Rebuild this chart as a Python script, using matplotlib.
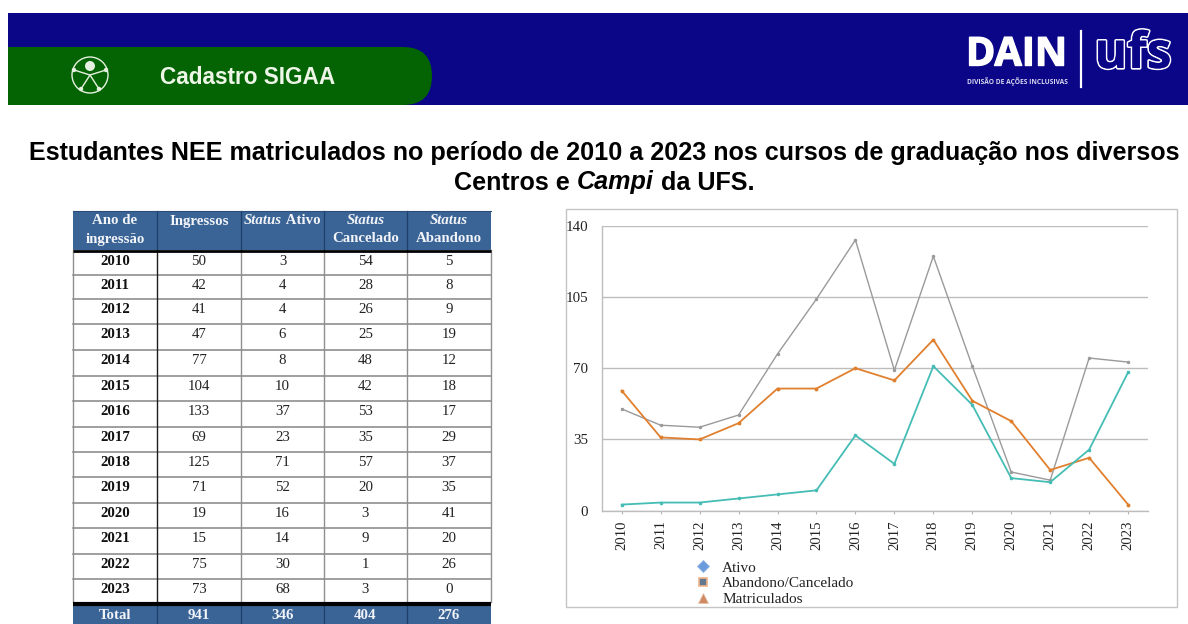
import matplotlib
matplotlib.use("Agg")
import matplotlib.pyplot as plt
from matplotlib.patches import Rectangle, FancyBboxPatch, Circle
from matplotlib.lines import Line2D
import matplotlib.patheffects as pe

# ---- data ----
years = [2010, 2011, 2012, 2013, 2014, 2015, 2016, 2017, 2018, 2019, 2020, 2021, 2022, 2023]
ingressos = [50, 42, 41, 47, 77, 104, 133, 69, 125, 71, 19, 15, 75, 73]
ativo_tab = [3, 4, 4, 6, 8, 10, 37, 23, 71, 52, 16, 14, 30, 68]
cancelado = [54, 28, 26, 25, 48, 42, 53, 35, 57, 20, 3, 9, 1, 3]
abandono = [5, 8, 9, 19, 12, 18, 17, 29, 37, 35, 41, 20, 26, 0]
totals = ["Total", "941", "346", "404", "276"]

ativo_line = [3, 4, 4, 6, 8, 10, 37, 23, 71, 52, 16, 14, 30, 68]
aband_canc_line = [59, 36, 35, 43, 60, 60, 70, 64, 84, 54, 44, 20, 26, 3]
matric_line = [50, 42, 41, 47, 77, 104, 133, 69, 125, 71, 19, 15, 75, 73]
y_ticks = [0, 35, 70, 105, 140]

W, H = 1188, 624
NAVY, GREEN, HEAD = "#0b0688", "#046404", "#3a6496"
TEAL, ORANGE, GREY = "#45bdb5", "#e0802f", "#9a9a9a"
SERIF = "Liberation Serif"
SANS = "Liberation Sans"

fig = plt.figure(figsize=(W / 100, H / 100), dpi=100, facecolor="white")
bg = fig.add_axes([0, 0, 1, 1])
bg.set_xlim(0, W)
bg.set_ylim(H, 0)
bg.axis("off")
renderer = fig.canvas.get_renderer()


def runs_text(cx, base, runs, **kw):
    """Centre a line made of upright and italic pieces on one baseline."""
    widths = []
    for s, st in runs:
        t = bg.text(0, 0, s.replace(" ", "\u00a0"), style=st, **kw)
        widths.append(t.get_window_extent(renderer).width)
        t.remove()
    x = cx - sum(widths) / 2
    for (s, st), w in zip(runs, widths):
        bg.text(x, base, s.replace(" ", "\u00a0"), style=st, ha="left", va="baseline", **kw)
        x += w


# ---- banner ----
bg.add_patch(Rectangle((8, 13), W - 8, 92, color=NAVY, lw=0, zorder=1))
bg.add_patch(FancyBboxPatch((-40, 47), 472, 58, boxstyle="round,pad=0,rounding_size=29",
                            fc=GREEN, ec="none", zorder=2))
bg.add_patch(Rectangle((0, 13), 8, 92, color="white", lw=0, zorder=3))
bg.text(160, 78, "Cadastro SIGAA", color="#eef6e8", fontsize=16.3, fontweight="bold",
        family=SANS, va="center", ha="left", zorder=4)

# accessibility icon
IC = "#e6f0e0"
bg.add_patch(Circle((90, 75), 18, fc="none", ec=IC, lw=1.0, zorder=4))
bg.add_patch(Circle((90, 66), 5, fc=IC, ec="none", zorder=5))
for (cx, cy) in [(74, 70), (106, 70), (81, 89), (99, 89)]:
    bg.add_patch(Circle((cx, cy), 2.2, fc=IC, ec="none", zorder=5))
bg.plot([74, 90, 106], [70, 75, 70], color=IC, lw=1.0, zorder=5)
bg.plot([81, 90, 99], [89, 75, 89], color=IC, lw=1.0, zorder=5)

# DAIN | ufs
dain = bg.text(966, 55, "DAIN", color="white", fontsize=28.5, fontweight="bold", family="Open Sans",
               va="center", ha="left", zorder=4)
dain.set_path_effects([pe.withStroke(linewidth=1.0, foreground="white")])
bg.text(967, 82, "DIVISÃO DE AÇÕES INCLUSIVAS", color="#d8d8ee", fontsize=4.8, fontweight="bold",
        family="Open Sans", va="center", ha="left", zorder=4)
bg.plot([1081, 1081], [31, 87], color="white", lw=1.6, zorder=4)
ufs = bg.text(1133, 55, "ufs", color=NAVY, fontsize=36, fontweight="bold", family="Open Sans",
              va="center", ha="center", zorder=4)
ufs.set_path_effects([pe.withStroke(linewidth=2.4, foreground="white"), pe.Normal()])

# ---- title ----
TFS = 18.07
bg.text(604, 153, "Estudantes NEE matriculados no período de 2010 a 2023 nos cursos de graduação nos diversos",
        fontsize=TFS, fontweight="bold", family=SANS, ha="center", va="center", color="black")
runs_text(604, 189.5, [("Centros e ", "normal"), ("Campi", "italic"), (" da UFS.", "normal")],
          fontsize=TFS, fontweight="bold", family=SANS, color="black")

# ---- table ----
cols = [73, 157, 241, 324, 407, 491]
row_edges = [251, 275, 299, 324, 350, 376, 401, 427, 452, 477, 503, 528, 554, 579, 602]
head_top, head_bot = 211, 250
n = len(years)
rows_bot = row_edges[-1]
tot_top, tot_bot = rows_bot + 3, 624
bg.add_patch(Rectangle((cols[0], head_top), cols[-1] - cols[0], head_bot - head_top, fc=HEAD, ec="none", zorder=2))
bg.add_patch(Rectangle((cols[0], tot_top), cols[-1] - cols[0], tot_bot - tot_top, fc=HEAD, ec="none", zorder=2))
bg.plot([cols[0], cols[-1]], [head_bot + 0.7] * 2, color="black", lw=2.0, zorder=4, solid_capstyle="butt")
bg.plot([cols[0], cols[-1]], [rows_bot + 1.5] * 2, color="black", lw=3.0, zorder=4, solid_capstyle="butt")
for e in row_edges[1:-1]:
    bg.plot([cols[0], cols[-1]], [e, e], color="#858585", lw=1.1, zorder=3)
for i, cx in enumerate(cols):
    c = "#1d1d1d" if i == 1 else "#8f8f8f"
    bg.plot([cx, cx], [head_bot, rows_bot], color=c, lw=1.0, zorder=3)
    if 0 < i < 5:
        bg.plot([cx, cx], [head_top, head_bot], color="#1f3f6b", lw=0.9, zorder=3)
        bg.plot([cx, cx], [tot_top, tot_bot], color="#1f3f6b", lw=0.9, zorder=3)
bg.plot([cols[0], cols[-1]], [head_top, head_top], color="#2c4d7a", lw=0.8, zorder=3)

mid = [(cols[i] + cols[i + 1]) / 2 for i in range(5)]
FS = 10.7
hkw = dict(color="#f2f4f8", fontsize=FS, fontweight="bold", family=SERIF, zorder=5)
B1, B2 = 224.5, 242.5
runs_text(mid[0], B1, [("Ano de", "normal")], **hkw)
runs_text(mid[0], B2, [("ingressão", "normal")], **hkw)
runs_text(mid[1], B1, [("Ingressos", "normal")], **hkw)
runs_text(mid[2], B1, [("Status", "italic"), (" Ativo", "normal")], **hkw)
runs_text(mid[3], B1, [("Status", "italic")], **hkw)
runs_text(mid[3], B2, [("Cancelado", "normal")], **hkw)
runs_text(mid[4], B1, [("Status", "italic")], **hkw)
runs_text(mid[4], B2, [("Abandono", "normal")], **hkw)

for i in range(n):
    yc = row_edges[i] + 10.3
    bg.text(mid[0], yc, str(years[i]), fontsize=FS, fontweight="bold", family=SERIF,
            ha="center", va="center", color="#111111", zorder=5)
    for j, arr in enumerate([ingressos, ativo_tab, cancelado, abandono]):
        bg.text(mid[j + 1], yc, str(arr[i]), fontsize=FS, family=SERIF,
                ha="center", va="center", color="#222222", zorder=5)
for j, s in enumerate(totals):
    bg.text(mid[j], 615.5, s, color="#f2f4f8", fontsize=FS, fontweight="bold", family=SERIF,
            ha="center", va="center", zorder=5)

# ---- chart ----
bg.add_patch(Rectangle((565.5, 209), 611, 398, fc="white", ec="#c4c4c4", lw=1.0, zorder=1))
x0, x1, ytop, ybot = 602.2, 1147.6, 225.7, 510.7
ax = fig.add_axes([x0 / W, 1 - ybot / H, (x1 - x0) / W, (ybot - ytop) / H])
ax.patch.set_alpha(0)
ax.set_xlim(-0.5, 13.5)
ax.set_ylim(0, 140)
xs = list(range(len(years)))
ax.plot(xs, matric_line, color=GREY, lw=1.0, marker="o", ms=1.5, zorder=3)
ax.plot(xs, aband_canc_line, color=ORANGE, lw=1.3, marker="o", ms=1.8, zorder=4)
ax.plot(xs, ativo_line, color=TEAL, lw=1.3, marker="o", ms=1.6, zorder=5)
ax.set_yticks(y_ticks)
ax.set_xticks(xs, [str(v) for v in years], rotation=90)
ax.tick_params(axis="y", length=0, pad=10, labelsize=10.8, colors="#222222")
ax.tick_params(axis="x", length=2, pad=5, labelsize=10.6, colors="#222222", color="#b5b5b5")
for lab in ax.get_xticklabels() + ax.get_yticklabels():
    lab.set_family(SERIF)
ax.grid(axis="y", color="#bdbdbd", lw=1.0)
ax.set_axisbelow(True)
for s in ("top", "right"):
    ax.spines[s].set_visible(False)
for s in ("left", "bottom"):
    ax.spines[s].set_color("#bdbdbd")
    ax.spines[s].set_linewidth(1.0)

handles = [
    Line2D([], [], ls="none", marker="D", ms=6.5, mfc="#6c9bdc", mec="#8fb5e6", mew=0.6),
    Line2D([], [], ls="none", marker="s", ms=6.0, mfc="#62788f", mec="#eeb48c", mew=1.2),
    Line2D([], [], ls="none", marker="^", ms=6.5, mfc="#cf8a63", mec="#e8c4ac", mew=0.6),
]
labels = ["Ativo", "Abandono/Cancelado", "Matriculados"]
leg = fig.legend(handles, labels, loc="upper left", bbox_to_anchor=(691 / W, 1 - 561 / H),
                 frameon=False, prop={"family": SERIF, "size": 11.0}, labelspacing=0.125,
                 handletextpad=0.45, borderpad=0, borderaxespad=0, handlelength=1.6)
for t in leg.get_texts():
    t.set_color("#222222")

fig.savefig("out.png", dpi=100)
